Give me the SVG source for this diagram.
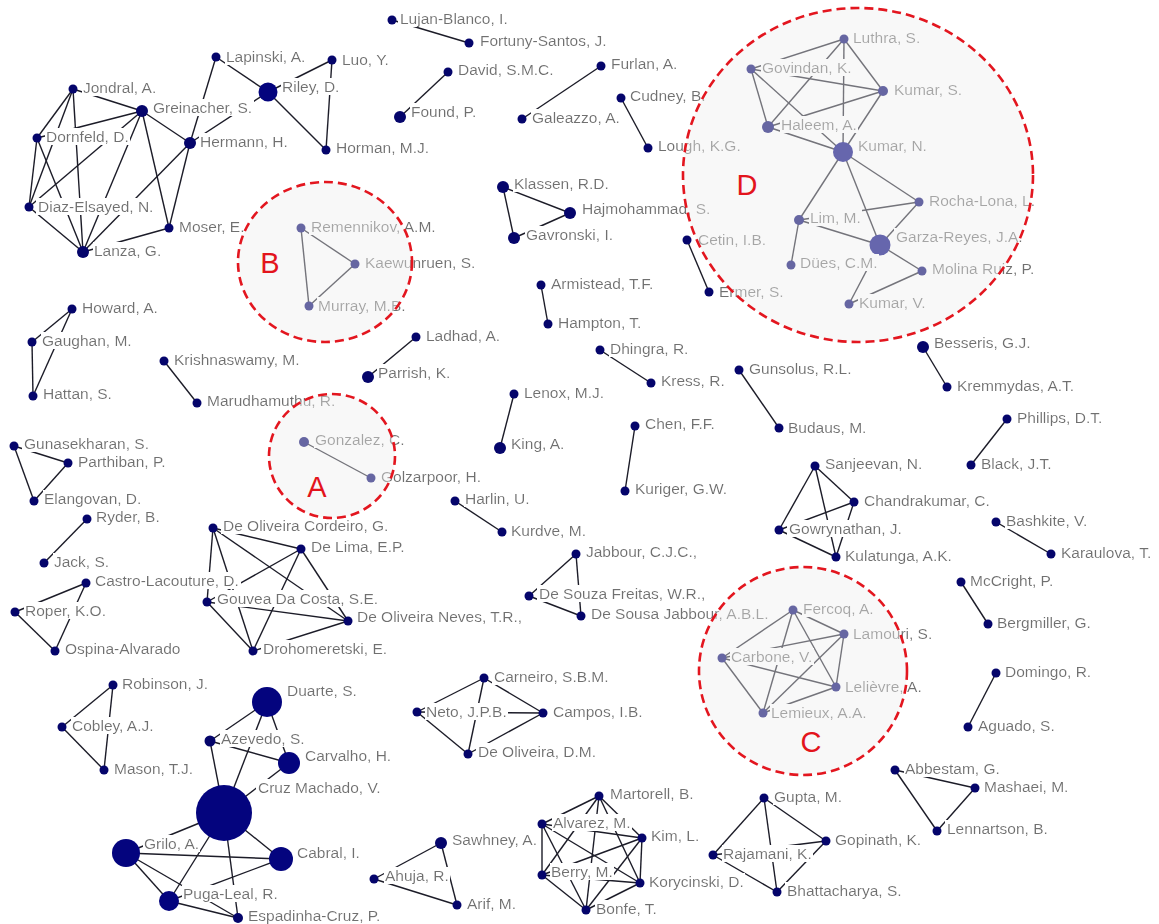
<svg xmlns="http://www.w3.org/2000/svg" width="1159" height="924" viewBox="0 0 1159 924">
<defs>
<!-- white box behind each label, sized to the text's own bounding box -->
<filter id="labelBox" x="-0.01" y="0.04" width="1.02" height="0.92">
<feFlood flood-color="#ffffff"/>
<feComposite in="SourceGraphic" operator="over"/>
</filter>
</defs>
<style>
.e line{stroke:#1c1c28;stroke-width:1.4}
.n circle{fill:#05056b}
.n circle.big{fill:#04047e}
.n text{font-family:"Liberation Sans",Arial,sans-serif;font-size:15.5px;fill:#6f6f6f;filter:url(#labelBox)}
.hl{fill:#eeeeee;fill-opacity:.42;stroke:#e3161f;stroke-width:2.6;stroke-dasharray:9 5}
.tag{font-family:"Liberation Sans",Arial,sans-serif;font-size:29px;fill:#e3141c;text-anchor:middle}
</style>
<rect width="1159" height="924" fill="#fff"/>

<g id="connectors" class="e">
<!-- Greinacher / Riley group -->
<line x1="73" y1="89" x2="142" y2="111"/><line x1="73" y1="89" x2="37" y2="138"/><line x1="73" y1="89" x2="29" y2="207"/><line x1="73" y1="89" x2="83" y2="252"/>
<line x1="142" y1="111" x2="37" y2="138"/><line x1="142" y1="111" x2="29" y2="207"/><line x1="142" y1="111" x2="83" y2="252"/><line x1="142" y1="111" x2="169" y2="228"/><line x1="142" y1="111" x2="190" y2="143"/>
<line x1="37" y1="138" x2="29" y2="207"/><line x1="37" y1="138" x2="83" y2="252"/><line x1="29" y1="207" x2="83" y2="252"/>
<line x1="190" y1="143" x2="83" y2="252"/><line x1="190" y1="143" x2="169" y2="228"/><line x1="190" y1="143" x2="216" y2="57"/><line x1="190" y1="143" x2="268" y2="92"/>
<line x1="169" y1="228" x2="83" y2="252"/><line x1="216" y1="57" x2="268" y2="92"/><line x1="268" y1="92" x2="332" y2="60"/><line x1="268" y1="92" x2="326" y2="150"/><line x1="332" y1="60" x2="326" y2="150"/>
<!-- B, A -->
<line x1="301" y1="228" x2="355" y2="264"/><line x1="301" y1="228" x2="309" y2="306"/><line x1="355" y1="264" x2="309" y2="306"/>
<line x1="304" y1="442" x2="371" y2="478"/>
<!-- left column -->
<line x1="72" y1="309" x2="32" y2="342"/><line x1="72" y1="309" x2="33" y2="396"/><line x1="32" y1="342" x2="33" y2="396"/>
<line x1="164" y1="361" x2="197" y2="403"/>
<line x1="14" y1="446" x2="68" y2="463"/><line x1="14" y1="446" x2="34" y2="501"/><line x1="68" y1="463" x2="34" y2="501"/>
<line x1="87" y1="519" x2="44" y2="563"/>
<line x1="86" y1="583" x2="15" y2="612"/><line x1="86" y1="583" x2="55" y2="651"/><line x1="15" y1="612" x2="55" y2="651"/>
<!-- De Oliveira group -->
<line x1="213" y1="528" x2="301" y2="549"/><line x1="213" y1="528" x2="207" y2="602"/><line x1="213" y1="528" x2="253" y2="651"/><line x1="213" y1="528" x2="348" y2="621"/>
<line x1="301" y1="549" x2="207" y2="602"/><line x1="301" y1="549" x2="253" y2="651"/><line x1="301" y1="549" x2="348" y2="621"/>
<line x1="207" y1="602" x2="348" y2="621"/><line x1="207" y1="602" x2="253" y2="651"/><line x1="253" y1="651" x2="348" y2="621"/>
<!-- top middle -->
<line x1="392" y1="20" x2="469" y2="43"/><line x1="448" y1="72" x2="400" y2="117"/><line x1="601" y1="66" x2="522" y2="119"/><line x1="621" y1="98" x2="648" y2="148"/>
<line x1="503" y1="187" x2="570" y2="213"/><line x1="503" y1="187" x2="514" y2="238"/><line x1="570" y1="213" x2="514" y2="238"/>
<!-- middle pairs -->
<line x1="541" y1="285" x2="548" y2="324"/><line x1="416" y1="337" x2="368" y2="377"/><line x1="600" y1="350" x2="651" y2="383"/><line x1="514" y1="394" x2="500" y2="448"/>
<line x1="635" y1="426" x2="625" y2="491"/><line x1="455" y1="501" x2="502" y2="532"/>
<line x1="576" y1="554" x2="529" y2="596"/><line x1="576" y1="554" x2="581" y2="616"/><line x1="529" y1="596" x2="581" y2="616"/>
<line x1="739" y1="370" x2="779" y2="428"/><line x1="923" y1="347" x2="947" y2="387"/><line x1="1007" y1="419" x2="971" y2="465"/><line x1="687" y1="240" x2="709" y2="292"/>
<!-- D -->
<line x1="844" y1="39" x2="751" y2="69"/><line x1="844" y1="39" x2="768" y2="127"/><line x1="844" y1="39" x2="883" y2="91"/><line x1="844" y1="39" x2="843" y2="152"/>
<line x1="751" y1="69" x2="768" y2="127"/><line x1="751" y1="69" x2="883" y2="91"/><line x1="751" y1="69" x2="843" y2="152"/>
<line x1="768" y1="127" x2="883" y2="91"/><line x1="768" y1="127" x2="843" y2="152"/><line x1="883" y1="91" x2="843" y2="152"/>
<line x1="843" y1="152" x2="799" y2="220"/><line x1="843" y1="152" x2="880" y2="245"/><line x1="843" y1="152" x2="919" y2="202"/>
<line x1="799" y1="220" x2="919" y2="202"/><line x1="799" y1="220" x2="880" y2="245"/><line x1="799" y1="220" x2="791" y2="265"/>
<line x1="919" y1="202" x2="880" y2="245"/><line x1="880" y1="245" x2="922" y2="271"/><line x1="880" y1="245" x2="849" y2="304"/><line x1="922" y1="271" x2="849" y2="304"/>
<!-- Sanjeevan group -->
<line x1="815" y1="466" x2="854" y2="502"/><line x1="815" y1="466" x2="779" y2="530"/><line x1="815" y1="466" x2="836" y2="557"/>
<line x1="854" y1="502" x2="779" y2="530"/><line x1="854" y1="502" x2="836" y2="557"/><line x1="779" y1="530" x2="836" y2="557"/>
<!-- right column -->
<line x1="996" y1="522" x2="1051" y2="554"/><line x1="961" y1="582" x2="988" y2="624"/><line x1="996" y1="673" x2="968" y2="727"/>
<line x1="895" y1="770" x2="975" y2="788"/><line x1="895" y1="770" x2="937" y2="831"/><line x1="975" y1="788" x2="937" y2="831"/>
<!-- C -->
<line x1="793" y1="610" x2="844" y2="634"/><line x1="793" y1="610" x2="722" y2="658"/><line x1="793" y1="610" x2="836" y2="687"/><line x1="793" y1="610" x2="763" y2="713"/>
<line x1="844" y1="634" x2="722" y2="658"/><line x1="844" y1="634" x2="836" y2="687"/><line x1="844" y1="634" x2="763" y2="713"/>
<line x1="722" y1="658" x2="836" y2="687"/><line x1="722" y1="658" x2="763" y2="713"/><line x1="836" y1="687" x2="763" y2="713"/>
<!-- Carneiro group -->
<line x1="484" y1="678" x2="417" y2="712"/><line x1="484" y1="678" x2="543" y2="713"/><line x1="484" y1="678" x2="468" y2="754"/>
<line x1="417" y1="712" x2="543" y2="713"/><line x1="417" y1="712" x2="468" y2="754"/><line x1="543" y1="713" x2="468" y2="754"/>
<!-- Robinson group -->
<line x1="113" y1="685" x2="62" y2="727"/><line x1="113" y1="685" x2="104" y2="770"/><line x1="62" y1="727" x2="104" y2="770"/>
<!-- Cruz Machado group -->
<line x1="267" y1="702" x2="210" y2="741"/><line x1="267" y1="702" x2="224" y2="813"/><line x1="267" y1="702" x2="289" y2="763"/>
<line x1="210" y1="741" x2="289" y2="763"/><line x1="210" y1="741" x2="224" y2="813"/><line x1="289" y1="763" x2="224" y2="813"/>
<line x1="224" y1="813" x2="126" y2="853"/><line x1="224" y1="813" x2="281" y2="859"/><line x1="224" y1="813" x2="169" y2="901"/><line x1="224" y1="813" x2="238" y2="918"/>
<line x1="126" y1="853" x2="281" y2="859"/><line x1="126" y1="853" x2="169" y2="901"/><line x1="126" y1="853" x2="238" y2="918"/>
<line x1="281" y1="859" x2="169" y2="901"/><line x1="169" y1="901" x2="238" y2="918"/>
<!-- Sawhney group -->
<line x1="441" y1="843" x2="374" y2="879"/><line x1="441" y1="843" x2="457" y2="905"/><line x1="374" y1="879" x2="457" y2="905"/>
<!-- Martorell group -->
<line x1="599" y1="796" x2="542" y2="824"/><line x1="599" y1="796" x2="642" y2="838"/><line x1="599" y1="796" x2="542" y2="875"/><line x1="599" y1="796" x2="640" y2="883"/><line x1="599" y1="796" x2="586" y2="910"/>
<line x1="542" y1="824" x2="642" y2="838"/><line x1="542" y1="824" x2="542" y2="875"/><line x1="542" y1="824" x2="640" y2="883"/><line x1="542" y1="824" x2="586" y2="910"/>
<line x1="642" y1="838" x2="542" y2="875"/><line x1="642" y1="838" x2="640" y2="883"/><line x1="642" y1="838" x2="586" y2="910"/>
<line x1="542" y1="875" x2="640" y2="883"/><line x1="542" y1="875" x2="586" y2="910"/><line x1="640" y1="883" x2="586" y2="910"/>
<!-- Gupta group -->
<line x1="764" y1="798" x2="713" y2="855"/><line x1="764" y1="798" x2="826" y2="841"/><line x1="764" y1="798" x2="777" y2="892"/>
<line x1="713" y1="855" x2="826" y2="841"/><line x1="713" y1="855" x2="777" y2="892"/><line x1="826" y1="841" x2="777" y2="892"/>
</g>

<g id="n-jondral" class="n"><circle cx="73" cy="89" r="4.5"/><text x="83" y="93">Jondral, A.</text></g>
<g id="n-greinacher" class="n"><circle cx="142" cy="111" r="6"/><text x="153" y="113">Greinacher, S.</text></g>
<g id="n-dornfeld" class="n"><circle cx="37" cy="138" r="4.5"/><text x="46" y="142">Dornfeld, D.</text></g>
<g id="n-hermann" class="n"><circle cx="190" cy="143" r="6"/><text x="200" y="147">Hermann, H.</text></g>
<g id="n-diaz" class="n"><circle cx="29" cy="207" r="4.5"/><text x="38" y="212">Diaz-Elsayed, N.</text></g>
<g id="n-moser" class="n"><circle cx="169" cy="228" r="4.5"/><text x="179" y="232">Moser, E.</text></g>
<g id="n-lanza" class="n"><circle cx="83" cy="252" r="6"/><text x="94" y="256">Lanza, G.</text></g>
<g id="n-lapinski" class="n"><circle cx="216" cy="57" r="4.5"/><text x="226" y="62">Lapinski, A.</text></g>
<g id="n-riley" class="n"><circle class="big" cx="268" cy="92" r="9.5"/><text x="282" y="92">Riley, D.</text></g>
<g id="n-luo" class="n"><circle cx="332" cy="60" r="4.5"/><text x="342" y="65">Luo, Y.</text></g>
<g id="n-horman" class="n"><circle cx="326" cy="150" r="4.5"/><text x="336" y="153">Horman, M.J.</text></g>

<g id="n-remennikov" class="n"><circle cx="301" cy="228" r="4.5"/><text x="311" y="232">Remennikov, A.M.</text></g>
<g id="n-kaewunruen" class="n"><circle cx="355" cy="264" r="4.5"/><text x="365" y="268">Kaewunruen, S.</text></g>
<g id="n-murray" class="n"><circle cx="309" cy="306" r="4.5"/><text x="318" y="311">Murray, M.B.</text></g>
<g id="n-gonzalez" class="n"><circle cx="304" cy="442" r="5"/><text x="315" y="445">Gonzalez, C.</text></g>
<g id="n-golzarpoor" class="n"><circle cx="371" cy="478" r="4.5"/><text x="381" y="482">Golzarpoor, H.</text></g>

<g id="n-howard" class="n"><circle cx="72" cy="309" r="4.5"/><text x="82" y="313">Howard, A.</text></g>
<g id="n-gaughan" class="n"><circle cx="32" cy="342" r="4.5"/><text x="42" y="346">Gaughan, M.</text></g>
<g id="n-hattan" class="n"><circle cx="33" cy="396" r="4.5"/><text x="43" y="399">Hattan, S.</text></g>
<g id="n-krishnaswamy" class="n"><circle cx="164" cy="361" r="4.5"/><text x="174" y="365">Krishnaswamy, M.</text></g>
<g id="n-marudhamuthu" class="n"><circle cx="197" cy="403" r="4.5"/><text x="207" y="406">Marudhamuthu, R.</text></g>
<g id="n-gunasekharan" class="n"><circle cx="14" cy="446" r="4.5"/><text x="24" y="449">Gunasekharan, S.</text></g>
<g id="n-parthiban" class="n"><circle cx="68" cy="463" r="4.5"/><text x="78" y="467">Parthiban, P.</text></g>
<g id="n-elangovan" class="n"><circle cx="34" cy="501" r="4.5"/><text x="44" y="504">Elangovan, D.</text></g>
<g id="n-ryder" class="n"><circle cx="87" cy="519" r="4.5"/><text x="96" y="522">Ryder, B.</text></g>
<g id="n-jack" class="n"><circle cx="44" cy="563" r="4.5"/><text x="54" y="567">Jack, S.</text></g>
<g id="n-castro" class="n"><circle cx="86" cy="583" r="4.5"/><text x="95" y="586">Castro-Lacouture, D.</text></g>
<g id="n-roper" class="n"><circle cx="15" cy="612" r="4.5"/><text x="25" y="616">Roper, K.O.</text></g>
<g id="n-ospina" class="n"><circle cx="55" cy="651" r="4.5"/><text x="65" y="654">Ospina-Alvarado</text></g>

<g id="n-cordeiro" class="n"><circle cx="213" cy="528" r="4.5"/><text x="223" y="531">De Oliveira Cordeiro, G.</text></g>
<g id="n-delima" class="n"><circle cx="301" cy="549" r="4.5"/><text x="311" y="552">De Lima, E.P.</text></g>
<g id="n-gouvea" class="n"><circle cx="207" cy="602" r="4.5"/><text x="217" y="604">Gouvea Da Costa, S.E.</text></g>
<g id="n-neves" class="n"><circle cx="348" cy="621" r="4.5"/><text x="357" y="622">De Oliveira Neves, T.R.,</text></g>
<g id="n-drohomeretski" class="n"><circle cx="253" cy="651" r="4.5"/><text x="263" y="654">Drohomeretski, E.</text></g>

<g id="n-lujan" class="n"><circle cx="392" cy="20" r="4.5"/><text x="400" y="24">Lujan-Blanco, I.</text></g>
<g id="n-fortuny" class="n"><circle cx="469" cy="43" r="4.5"/><text x="480" y="46">Fortuny-Santos, J.</text></g>
<g id="n-david" class="n"><circle cx="448" cy="72" r="4.5"/><text x="458" y="75">David, S.M.C.</text></g>
<g id="n-found" class="n"><circle cx="400" cy="117" r="6"/><text x="411" y="117">Found, P.</text></g>
<g id="n-furlan" class="n"><circle cx="601" cy="66" r="4.5"/><text x="611" y="69">Furlan, A.</text></g>
<g id="n-galeazzo" class="n"><circle cx="522" cy="119" r="4.5"/><text x="532" y="123">Galeazzo, A.</text></g>
<g id="n-cudney" class="n"><circle cx="621" cy="98" r="4.5"/><text x="630" y="101">Cudney, B.</text></g>
<g id="n-lough" class="n"><circle cx="648" cy="148" r="4.5"/><text x="658" y="151">Lough, K.G.</text></g>
<g id="n-klassen" class="n"><circle cx="503" cy="187" r="6"/><text x="514" y="189">Klassen, R.D.</text></g>
<g id="n-hajmohammad" class="n"><circle cx="570" cy="213" r="6"/><text x="582" y="214">Hajmohammad, S.</text></g>
<g id="n-gavronski" class="n"><circle cx="514" cy="238" r="6"/><text x="526" y="240">Gavronski, I.</text></g>

<g id="n-armistead" class="n"><circle cx="541" cy="285" r="4.5"/><text x="551" y="289">Armistead, T.F.</text></g>
<g id="n-hampton" class="n"><circle cx="548" cy="324" r="4.5"/><text x="558" y="328">Hampton, T.</text></g>
<g id="n-ladhad" class="n"><circle cx="416" cy="337" r="4.5"/><text x="426" y="341">Ladhad, A.</text></g>
<g id="n-parrish" class="n"><circle cx="368" cy="377" r="6"/><text x="378" y="378">Parrish, K.</text></g>
<g id="n-dhingra" class="n"><circle cx="600" cy="350" r="4.5"/><text x="610" y="354">Dhingra, R.</text></g>
<g id="n-kress" class="n"><circle cx="651" cy="383" r="4.5"/><text x="661" y="386">Kress, R.</text></g>
<g id="n-lenox" class="n"><circle cx="514" cy="394" r="4.5"/><text x="524" y="398">Lenox, M.J.</text></g>
<g id="n-king" class="n"><circle cx="500" cy="448" r="6"/><text x="511" y="449">King, A.</text></g>
<g id="n-chen" class="n"><circle cx="635" cy="426" r="4.5"/><text x="645" y="429">Chen, F.F.</text></g>
<g id="n-kuriger" class="n"><circle cx="625" cy="491" r="4.5"/><text x="635" y="494">Kuriger, G.W.</text></g>
<g id="n-harlin" class="n"><circle cx="455" cy="501" r="4.5"/><text x="465" y="504">Harlin, U.</text></g>
<g id="n-kurdve" class="n"><circle cx="502" cy="532" r="4.5"/><text x="511" y="536">Kurdve, M.</text></g>
<g id="n-jabbour" class="n"><circle cx="576" cy="554" r="4.5"/><text x="586" y="557">Jabbour, C.J.C.,</text></g>
<g id="n-freitas" class="n"><circle cx="529" cy="596" r="4.5"/><text x="539" y="599">De Souza Freitas, W.R.,</text></g>
<g id="n-sousa" class="n"><circle cx="581" cy="616" r="4.5"/><text x="591" y="619">De Sousa Jabbour, A.B.L.</text></g>
<g id="n-gunsolus" class="n"><circle cx="739" cy="370" r="4.5"/><text x="749" y="374">Gunsolus, R.L.</text></g>
<g id="n-budaus" class="n"><circle cx="779" cy="428" r="4.5"/><text x="788" y="433">Budaus, M.</text></g>
<g id="n-besseris" class="n"><circle cx="923" cy="347" r="6"/><text x="934" y="348">Besseris, G.J.</text></g>
<g id="n-kremmydas" class="n"><circle cx="947" cy="387" r="4.5"/><text x="957" y="391">Kremmydas, A.T.</text></g>
<g id="n-phillips" class="n"><circle cx="1007" cy="419" r="4.5"/><text x="1017" y="423">Phillips, D.T.</text></g>
<g id="n-black" class="n"><circle cx="971" cy="465" r="4.5"/><text x="981" y="469">Black, J.T.</text></g>
<g id="n-cetin" class="n"><circle cx="687" cy="240" r="4.5"/><text x="698" y="245">Cetin, I.B.</text></g>
<g id="n-ermer" class="n"><circle cx="709" cy="292" r="4.5"/><text x="719" y="297">Ermer, S.</text></g>

<g id="n-luthra" class="n"><circle cx="844" cy="39" r="4.5"/><text x="853" y="43">Luthra, S.</text></g>
<g id="n-govindan" class="n"><circle cx="751" cy="69" r="4.5"/><text x="762" y="73">Govindan, K.</text></g>
<g id="n-kumar-s" class="n"><circle cx="883" cy="91" r="5"/><text x="894" y="95">Kumar, S.</text></g>
<g id="n-haleem" class="n"><circle cx="768" cy="127" r="6"/><text x="781" y="130">Haleem, A.</text></g>
<g id="n-kumar-n" class="n"><circle class="big" cx="843" cy="152" r="10"/><text x="858" y="151">Kumar, N.</text></g>
<g id="n-rocha-lona" class="n"><circle cx="919" cy="202" r="4.5"/><text x="929" y="206">Rocha-Lona, L.</text></g>
<g id="n-lim" class="n"><circle cx="799" cy="220" r="5"/><text x="810" y="223">Lim, M.</text></g>
<g id="n-garza-reyes" class="n"><circle class="big" cx="880" cy="245" r="10.5"/><text x="896" y="242">Garza-Reyes, J.A.</text></g>
<g id="n-dues" class="n"><circle cx="791" cy="265" r="4.5"/><text x="800" y="268">Dües, C.M.</text></g>
<g id="n-molina-ruiz" class="n"><circle cx="922" cy="271" r="4.5"/><text x="932" y="274">Molina Ruiz, P.</text></g>
<g id="n-kumar-v" class="n"><circle cx="849" cy="304" r="4.5"/><text x="859" y="308">Kumar, V.</text></g>

<g id="n-sanjeevan" class="n"><circle cx="815" cy="466" r="4.5"/><text x="825" y="469">Sanjeevan, N.</text></g>
<g id="n-chandrakumar" class="n"><circle cx="854" cy="502" r="4.5"/><text x="864" y="506">Chandrakumar, C.</text></g>
<g id="n-gowrynathan" class="n"><circle cx="779" cy="530" r="4.5"/><text x="789" y="534">Gowrynathan, J.</text></g>
<g id="n-kulatunga" class="n"><circle cx="836" cy="557" r="4.5"/><text x="845" y="561">Kulatunga, A.K.</text></g>
<g id="n-bashkite" class="n"><circle cx="996" cy="522" r="4.5"/><text x="1006" y="526">Bashkite, V.</text></g>
<g id="n-karaulova" class="n"><circle cx="1051" cy="554" r="4.5"/><text x="1061" y="558">Karaulova, T.</text></g>
<g id="n-mccright" class="n"><circle cx="961" cy="582" r="4.5"/><text x="970" y="586">McCright, P.</text></g>
<g id="n-bergmiller" class="n"><circle cx="988" cy="624" r="4.5"/><text x="997" y="628">Bergmiller, G.</text></g>
<g id="n-domingo" class="n"><circle cx="996" cy="673" r="4.5"/><text x="1005" y="677">Domingo, R.</text></g>
<g id="n-aguado" class="n"><circle cx="968" cy="727" r="4.5"/><text x="978" y="731">Aguado, S.</text></g>
<g id="n-abbestam" class="n"><circle cx="895" cy="770" r="4.5"/><text x="905" y="774">Abbestam, G.</text></g>
<g id="n-mashaei" class="n"><circle cx="975" cy="788" r="4.5"/><text x="984" y="792">Mashaei, M.</text></g>
<g id="n-lennartson" class="n"><circle cx="937" cy="831" r="4.5"/><text x="947" y="834">Lennartson, B.</text></g>

<g id="n-fercoq" class="n"><circle cx="793" cy="610" r="4.5"/><text x="803" y="614">Fercoq, A.</text></g>
<g id="n-lamouri" class="n"><circle cx="844" cy="634" r="4.5"/><text x="853" y="639">Lamouri, S.</text></g>
<g id="n-carbone" class="n"><circle cx="722" cy="658" r="4.5"/><text x="731" y="662">Carbone, V.</text></g>
<g id="n-lelievre" class="n"><circle cx="836" cy="687" r="4.5"/><text x="845" y="692">Lelièvre, A.</text></g>
<g id="n-lemieux" class="n"><circle cx="763" cy="713" r="4.5"/><text x="771" y="718">Lemieux, A.A.</text></g>

<g id="n-carneiro" class="n"><circle cx="484" cy="678" r="4.5"/><text x="494" y="682">Carneiro, S.B.M.</text></g>
<g id="n-neto" class="n"><circle cx="417" cy="712" r="4.5"/><text x="426" y="717">Neto, J.P.B.</text></g>
<g id="n-campos" class="n"><circle cx="543" cy="713" r="4.5"/><text x="553" y="717">Campos, I.B.</text></g>
<g id="n-de-oliveira" class="n"><circle cx="468" cy="754" r="4.5"/><text x="478" y="757">De Oliveira, D.M.</text></g>

<g id="n-robinson" class="n"><circle cx="113" cy="685" r="4.5"/><text x="122" y="689">Robinson, J.</text></g>
<g id="n-cobley" class="n"><circle cx="62" cy="727" r="4.5"/><text x="72" y="731">Cobley, A.J.</text></g>
<g id="n-mason" class="n"><circle cx="104" cy="770" r="4.5"/><text x="114" y="774">Mason, T.J.</text></g>

<g id="n-duarte" class="n"><circle class="big" cx="267" cy="702" r="15"/><text x="287" y="696">Duarte, S.</text></g>
<g id="n-azevedo" class="n"><circle cx="210" cy="741" r="5.5"/><text x="221" y="744">Azevedo, S.</text></g>
<g id="n-carvalho" class="n"><circle class="big" cx="289" cy="763" r="11"/><text x="305" y="761">Carvalho, H.</text></g>
<g id="n-cruz-machado" class="n"><circle class="big" cx="224" cy="813" r="28"/><text x="258" y="793">Cruz Machado, V.</text></g>
<g id="n-grilo" class="n"><circle class="big" cx="126" cy="853" r="14"/><text x="144" y="849">Grilo, A.</text></g>
<g id="n-cabral" class="n"><circle class="big" cx="281" cy="859" r="12"/><text x="297" y="858">Cabral, I.</text></g>
<g id="n-puga-leal" class="n"><circle class="big" cx="169" cy="901" r="10"/><text x="183" y="899">Puga-Leal, R.</text></g>
<g id="n-espadinha" class="n"><circle cx="238" cy="918" r="5"/><text x="248" y="921">Espadinha-Cruz, P.</text></g>

<g id="n-sawhney" class="n"><circle cx="441" cy="843" r="6"/><text x="452" y="845">Sawhney, A.</text></g>
<g id="n-ahuja" class="n"><circle cx="374" cy="879" r="4.5"/><text x="385" y="881">Ahuja, R.</text></g>
<g id="n-arif" class="n"><circle cx="457" cy="905" r="4.5"/><text x="467" y="909">Arif, M.</text></g>

<g id="n-martorell" class="n"><circle cx="599" cy="796" r="4.5"/><text x="610" y="799">Martorell, B.</text></g>
<g id="n-alvarez" class="n"><circle cx="542" cy="824" r="4.5"/><text x="553" y="828">Alvarez, M.</text></g>
<g id="n-kim" class="n"><circle cx="642" cy="838" r="4.5"/><text x="651" y="841">Kim, L.</text></g>
<g id="n-berry" class="n"><circle cx="542" cy="875" r="4.5"/><text x="551" y="877">Berry, M.</text></g>
<g id="n-korycinski" class="n"><circle cx="640" cy="883" r="4.5"/><text x="649" y="887">Korycinski, D.</text></g>
<g id="n-bonfe" class="n"><circle cx="586" cy="910" r="4.5"/><text x="596" y="914">Bonfe, T.</text></g>

<g id="n-gupta" class="n"><circle cx="764" cy="798" r="4.5"/><text x="774" y="802">Gupta, M.</text></g>
<g id="n-rajamani" class="n"><circle cx="713" cy="855" r="4.5"/><text x="723" y="859">Rajamani, K.</text></g>
<g id="n-gopinath" class="n"><circle cx="826" cy="841" r="4.5"/><text x="835" y="845">Gopinath, K.</text></g>
<g id="n-bhattacharya" class="n"><circle cx="777" cy="892" r="4.5"/><text x="787" y="896">Bhattacharya, S.</text></g>

<!-- highlighted regions: translucent wash with dashed red outline -->
<g id="highlights">
<ellipse class="hl" cx="325" cy="262" rx="87" ry="80"/>
<ellipse class="hl" cx="332" cy="456" rx="63" ry="62"/>
<ellipse class="hl" cx="803" cy="671" rx="104" ry="104"/>
<ellipse class="hl" cx="858" cy="175" rx="175" ry="167"/>
<text class="tag" x="270" y="273">B</text>
<text class="tag" x="317" y="497">A</text>
<text class="tag" x="811" y="752">C</text>
<text class="tag" x="747" y="195">D</text>
</g>
</svg>
